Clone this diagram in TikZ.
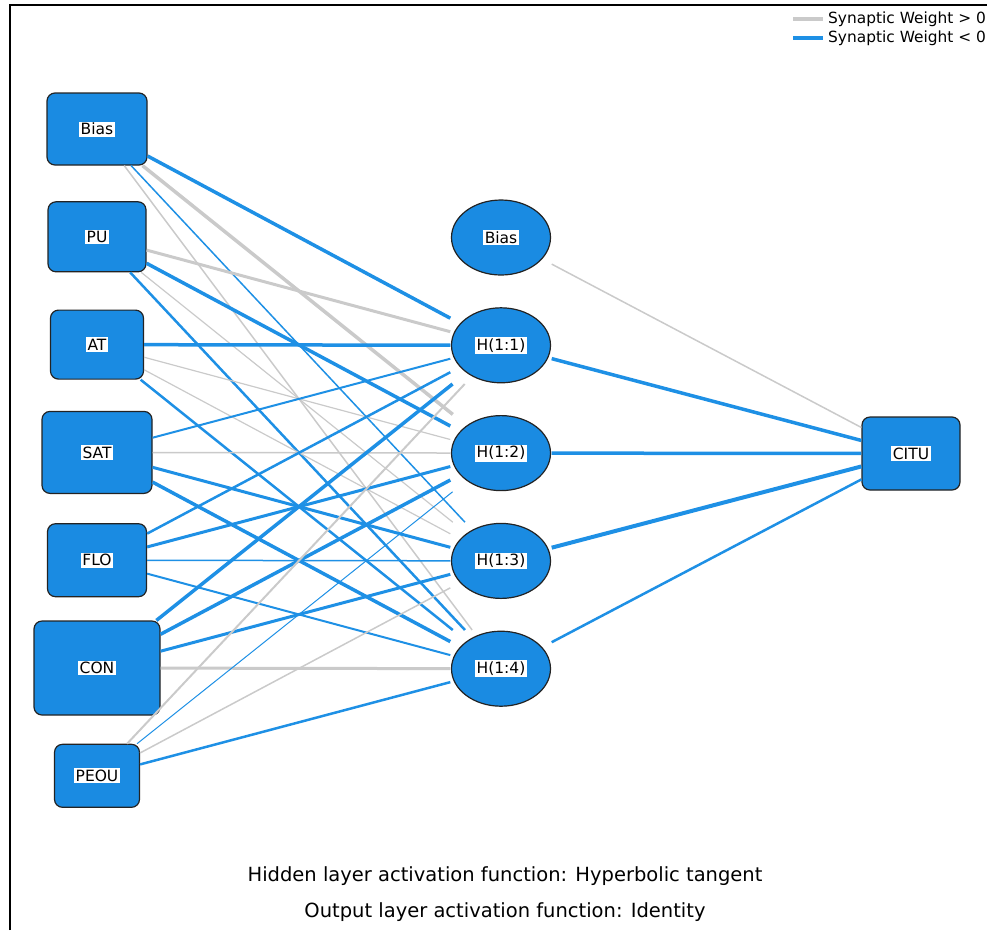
\documentclass[tikz,border=0pt]{standalone}
\usepackage{fontspec}
\setmainfont{DejaVu Sans}
\usepackage{tikz}
\definecolor{nodeblue}{RGB}{26,139,226}
\definecolor{wblue}{RGB}{30,144,229}
\definecolor{wgray}{RGB}{202,202,202}
\definecolor{rimline}{RGB}{35,35,35}
\newcommand{\whitelab}[1]{{\setlength{\fboxsep}{1.5pt}\colorbox{white}{#1}}}

\begin{document}
\begin{tikzpicture}[x=1pt,y=-1pt,node distance=107.8pt,
  inp/.style={rectangle,rounded corners=8pt,draw=rimline,fill=nodeblue,line width=1.2pt,inner sep=0pt,font=\fontsize{15.5}{18}\selectfont},
  hid/.style={rectangle,fill=white,minimum width=101pt,minimum height=77pt,inner sep=0pt,font=\fontsize{15.5}{18}\selectfont,
    path picture={\draw[rimline,fill=nodeblue,line width=1.2pt] (path picture bounding box.center) ellipse (49.5pt and 37.5pt);}},
  wp/.style={draw=wgray,line width=#1},
  wn/.style={draw=wblue,line width=#1},
  legend/.style={anchor=west,inner sep=0pt,font=\fontsize{15.4}{18}\selectfont},
  note/.style={font=\fontsize{19.5}{22}\selectfont}]
\clip (0,0) rectangle (987,930);
\draw[line width=1.3pt] (10,930) -- (10,5) -- (987,5);

% input layer
\node[inp,minimum width=100pt,minimum height=72pt] (ibias) at (97,129) {\whitelab{Bias}};
\node[inp,minimum width=98pt,minimum height=70pt] (pu) [below of=ibias] {\whitelab{PU}};
\node[inp,minimum width=93pt,minimum height=69pt] (at) [below of=pu] {\whitelab{AT}};
\node[inp,minimum width=110pt,minimum height=82pt] (sat) [below of=at] {\whitelab{SAT}};
\node[inp,minimum width=99pt,minimum height=73pt] (flo) [below of=sat] {\whitelab{FLO}};
\node[inp,minimum width=126pt,minimum height=94pt] (con) [below of=flo] {\whitelab{CON}};
\node[inp,minimum width=85pt,minimum height=63pt] (peou) [below of=con] {\whitelab{PEOU}};

% hidden layer
\node[hid] (hbias) at (501,237.5) {\whitelab{Bias}};
\node[hid] (h1) [below of=hbias] {\whitelab{H(1:1)}};
\node[hid] (h2) [below of=h1] {\whitelab{H(1:2)}};
\node[hid] (h3) [below of=h2] {\whitelab{H(1:3)}};
\node[hid] (h4) [below of=h3] {\whitelab{H(1:4)}};

% output layer
\node[inp,minimum width=98pt,minimum height=73pt] (citu) at (911,453.5) {\whitelab{CITU}};

\path
(ibias) edge[wn=3.5] (h1)
        edge[wp=3.5] (h2)
        edge[wn=1.5] (h3)
        edge[wp=1.5] (h4)
(pu) edge[wp=3] (h1)
     edge[wn=3.5] (h2)
     edge[wp=1.2] (h3)
     edge[wn=2.5] (h4)
(at) edge[wn=3.5] (h1)
     edge[wp=1.2] (h2)
     edge[wp=1.2] (h3)
     edge[wn=2.5] (h4)
(sat) edge[wn=2] (h1)
      edge[wp=1.5] (h2)
      edge[wn=3] (h3)
      edge[wn=3.5] (h4)
(flo) edge[wn=2.5] (h1)
      edge[wn=3] (h2)
      edge[wn=1.5] (h3)
      edge[wn=2] (h4)
(con) edge[wn=3.5] (h1)
      edge[wn=3.5] (h2)
      edge[wn=3] (h3)
      edge[wp=3] (h4)
(peou) edge[wp=2] (h1)
       edge[wn=1] (h2)
       edge[wp=1.5] (h3)
       edge[wn=2.5] (h4)
(hbias) edge[wp=1.5] (citu)
(h1) edge[wn=3.5] (citu)
(h2) edge[wn=3.5] (citu)
(h3) edge[wn=4] (citu)
(h4) edge[wn=2.5] (citu);

% legend
\coordinate (lgpa) at (793,19);
\coordinate (lgpb) at (823,19);
\coordinate (lgna) at (793,38);
\coordinate (lgnb) at (823,38);
\draw[wp=3.5] (lgpa) -- (lgpb);
\draw[wn=3.5] (lgna) -- (lgnb);
\node[legend] (lgptxt) at (828,19) {Synaptic Weight > 0};
\node[legend] (lgntxt) at (828,38) {Synaptic Weight < 0};

% activation notes
\node[note] (hidnote) at (505,876) {Hidden layer activation function: Hyperbolic tangent};
\node[note] (outnote) [below of=hidnote,node distance=36pt] {Output layer activation function: Identity};
\end{tikzpicture}
\end{document}
